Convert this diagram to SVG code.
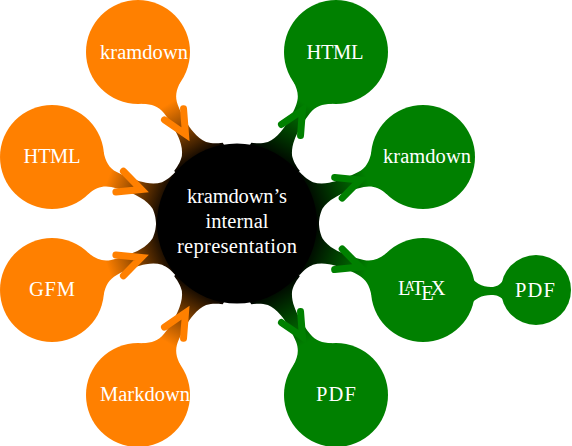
<svg xmlns="http://www.w3.org/2000/svg" xmlns:xlink="http://www.w3.org/1999/xlink" width="572" height="446" viewBox="0 0 572 446">
<style>
text{font-family:"Liberation Serif","Times New Roman",serif;font-size:20.5px;fill:#fff;text-anchor:middle}
.o{fill:#ff8000}.g{fill:#008000}.k{fill:#000}
.ao,.ag{fill:none;stroke-width:7;stroke-linecap:round;stroke-linejoin:miter;stroke-miterlimit:10}
.ao{stroke:#ff8000}.ag{stroke:#008000}
</style>
<defs>
<linearGradient id="go" gradientUnits="userSpaceOnUse" x1="60" y1="0" x2="125" y2="0"><stop offset="0" stop-color="#ff8000"/><stop offset="1" stop-color="#000"/></linearGradient>
<linearGradient id="gg" gradientUnits="userSpaceOnUse" x1="60" y1="0" x2="125" y2="0"><stop offset="0" stop-color="#008000"/><stop offset="1" stop-color="#000"/></linearGradient>
<path id="bar" d="M40,23 L47,22 C52,14 57,9.5 66,8 C76,6.5 90,6.5 97,8 C103,9 108,11 112,14 C116,18 118,21 121,28 L145,28 L145,-28 L121,-28 C118,-21 116,-18 112,-14 C108,-11 103,-9 97,-8 C90,-6.5 76,-6.5 66,-8 C57,-9.5 52,-14 47,-22 L40,-23 Z"/>
<path id="arrow-in" d="M72,-11 L95,0 L72,11"/>
<path id="arrow-out" d="M90,-11 L67,0 L90,11"/>
</defs>
<g id="connectors">
<use xlink:href="#bar" href="#bar" fill="url(#go)" transform="translate(138,52) rotate(60)"/>
<use xlink:href="#bar" href="#bar" fill="url(#go)" transform="translate(52,157) rotate(20)"/>
<use xlink:href="#bar" href="#bar" fill="url(#go)" transform="translate(52,290) rotate(-20)"/>
<use xlink:href="#bar" href="#bar" fill="url(#go)" transform="translate(138,395) rotate(-60)"/>
<use xlink:href="#bar" href="#bar" fill="url(#gg)" transform="translate(336,52) rotate(120)"/>
<use xlink:href="#bar" href="#bar" fill="url(#gg)" transform="translate(423,157) rotate(160)"/>
<use xlink:href="#bar" href="#bar" fill="url(#gg)" transform="translate(423,290) rotate(-160)"/>
<use xlink:href="#bar" href="#bar" fill="url(#gg)" transform="translate(336,395) rotate(-120)"/>
<path class="g" d="M465,270 C475,284 482,287 491,287 C497,287 499,285 504,280 L504,300 C499,296 497,295 491,295 C482,295 475,298 465,310 Z"/>
<use xlink:href="#arrow-in" href="#arrow-in" class="ao" transform="translate(138,52) rotate(60)"/>
<use xlink:href="#arrow-in" href="#arrow-in" class="ao" transform="translate(52,157) rotate(20)"/>
<use xlink:href="#arrow-in" href="#arrow-in" class="ao" transform="translate(52,290) rotate(-20)"/>
<use xlink:href="#arrow-in" href="#arrow-in" class="ao" transform="translate(138,395) rotate(-60)"/>
<use xlink:href="#arrow-out" href="#arrow-out" class="ag" transform="translate(336,52) rotate(120)"/>
<use xlink:href="#arrow-out" href="#arrow-out" class="ag" transform="translate(423,157) rotate(160)"/>
<use xlink:href="#arrow-out" href="#arrow-out" class="ag" transform="translate(423,290) rotate(-160)"/>
<use xlink:href="#arrow-out" href="#arrow-out" class="ag" transform="translate(336,395) rotate(-120)"/>
</g>
<g id="center"><circle class="k" cx="237" cy="223.5" r="80"/>
<text x="237" y="203" textLength="100">kramdown’s</text>
<text x="237" y="228" textLength="63">internal</text>
<text x="237" y="253" textLength="120">representation</text></g>
<g id="in-kramdown"><circle class="o" cx="138" cy="52" r="52"/><text x="144" y="59" textLength="88">kramdown</text></g>
<g id="in-html"><circle class="o" cx="52" cy="157" r="52"/><text x="52" y="163" textLength="57">HTML</text></g>
<g id="in-gfm"><circle class="o" cx="52" cy="290" r="52"/><text x="52" y="296" textLength="46">GFM</text></g>
<g id="in-markdown"><circle class="o" cx="138" cy="395" r="52"/><text x="145" y="401" textLength="90">Markdown</text></g>
<g id="out-html"><circle class="g" cx="336" cy="52" r="52"/><text x="335" y="59" textLength="57">HTML</text></g>
<g id="out-kramdown"><circle class="g" cx="423" cy="157" r="52"/><text x="427" y="163" textLength="88">kramdown</text></g>
<g id="out-latex"><circle class="g" cx="423" cy="290" r="52"/><text x="398" y="295" style="text-anchor:start">L<tspan dx="-6" dy="-4" font-size="14">A</tspan><tspan dx="-3" dy="4">T</tspan><tspan dx="-3" dy="4.5">E</tspan><tspan dx="-3" dy="-4.5">X</tspan></text></g>
<g id="out-pdf"><circle class="g" cx="336" cy="395" r="52"/><text x="336" y="401" textLength="40">PDF</text></g>
<g id="out-pdf-2"><circle class="g" cx="536" cy="290" r="35"/><text x="535" y="297" textLength="40">PDF</text></g>
</svg>
